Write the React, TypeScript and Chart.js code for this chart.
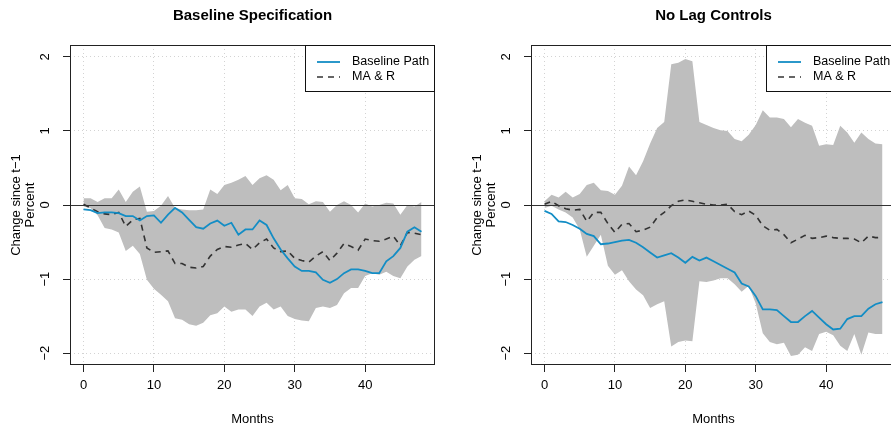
import React, { useEffect, useRef } from "react";
import { Chart, registerables } from "chart.js";

Chart.register(...registerables);

const FONT = "'Liberation Sans', Arial, Helvetica, sans-serif";

const months = [
  0, 1, 2, 3, 4, 5, 6, 7, 8, 9, 10, 11, 12, 13, 14, 15, 16, 17, 18, 19, 20, 21, 22, 23, 24,
  25, 26, 27, 28, 29, 30, 31, 32, 33, 34, 35, 36, 37, 38, 39, 40, 41, 42, 43, 44, 45, 46, 47, 48,
];
const xTickValues = [0, 10, 20, 30, 40];
const yTickValues = [-2, -1, 0, 1, 2];

const panelTitles = ["Baseline Specification", "No Lag Controls"];
const seriesNames = ["Baseline Path", "MA & R"];
const xTitle = "Months";
const yTitle = ["Change since t\u22121", "Percent"];

// Panel 1: Baseline Specification
const baseBlue = [
  -0.06, -0.07, -0.11, -0.10, -0.10, -0.11, -0.15, -0.15, -0.21, -0.15, -0.14, -0.24, -0.13, -0.04, -0.10, -0.20,
  -0.30, -0.32, -0.25, -0.21, -0.28, -0.24, -0.40, -0.33, -0.33, -0.21, -0.27, -0.45, -0.60, -0.72, -0.83, -0.89,
  -0.89, -0.91, -1.01, -1.05, -1.00, -0.92, -0.87, -0.87, -0.89, -0.92, -0.92, -0.76, -0.69, -0.58, -0.36, -0.30, -0.36,
];
const baseDash = [
  0.01, -0.04, -0.09, -0.12, -0.13, -0.10, -0.29, -0.20, -0.18, -0.58, -0.64, -0.63, -0.62, -0.79, -0.79, -0.84,
  -0.85, -0.83, -0.69, -0.60, -0.56, -0.57, -0.54, -0.52, -0.60, -0.51, -0.46, -0.58, -0.63, -0.62, -0.72, -0.75,
  -0.77, -0.69, -0.63, -0.75, -0.65, -0.52, -0.56, -0.61, -0.46, -0.48, -0.49, -0.46, -0.42, -0.55, -0.37, -0.38, -0.40,
];
const baseUpper = [
  0.09, 0.09, 0.04, 0.09, 0.09, 0.21, 0.04, 0.18, 0.25, -0.09, -0.08, -0.01, 0.12, -0.04, -0.06, -0.07,
  -0.07, -0.06, 0.21, 0.15, 0.27, 0.30, 0.34, 0.39, 0.27, 0.36, 0.40, 0.34, 0.20, 0.27, 0.09, 0.08,
  0.01, 0.05, 0.04, -0.09, 0.0, 0.05, 0.0, -0.10, 0.02, -0.02, 0.0, 0.03, 0.02, -0.13, 0.0, -0.02, 0.04,
];
const baseLower = [
  -0.02, -0.04, -0.14, -0.31, -0.33, -0.37, -0.62, -0.55, -0.66, -1.01, -1.13, -1.21, -1.30, -1.53, -1.55, -1.61,
  -1.63, -1.59, -1.49, -1.46, -1.37, -1.44, -1.41, -1.41, -1.50, -1.37, -1.32, -1.41, -1.37, -1.50, -1.54, -1.56,
  -1.57, -1.39, -1.37, -1.39, -1.35, -1.19, -1.12, -1.12, -0.96, -0.92, -0.94, -0.90, -0.96, -0.99, -0.83, -0.74, -0.69,
];

// Panel 2: No Lag Controls
const nolagBlue = [
  -0.08, -0.12, -0.22, -0.23, -0.27, -0.32, -0.39, -0.42, -0.53, -0.52, -0.50, -0.48, -0.47, -0.51, -0.57, -0.64,
  -0.71, -0.68, -0.65, -0.71, -0.78, -0.70, -0.75, -0.71, -0.76, -0.81, -0.86, -0.91, -1.06, -1.10, -1.23, -1.41,
  -1.41, -1.42, -1.50, -1.58, -1.58, -1.50, -1.43, -1.52, -1.61, -1.68, -1.67, -1.54, -1.50, -1.50, -1.40, -1.34, -1.31,
];
const nolagDash = [
  0.01, 0.05, -0.01, -0.05, -0.07, -0.06, -0.22, -0.10, -0.10, -0.25, -0.37, -0.26, -0.25, -0.36, -0.34, -0.30,
  -0.17, -0.10, -0.01, 0.05, 0.07, 0.05, 0.03, 0.01, 0.0, 0.0, 0.01, -0.09, -0.13, -0.08, -0.14, -0.28,
  -0.34, -0.33, -0.40, -0.51, -0.46, -0.41, -0.45, -0.44, -0.42, -0.44, -0.45, -0.45, -0.46, -0.51, -0.42, -0.44, -0.44,
];
const nolagUpper = [
  0.05, 0.14, 0.10, 0.18, 0.10, 0.15, 0.27, 0.30, 0.20, 0.19, 0.14, 0.26, 0.52, 0.40, 0.59, 0.83,
  1.04, 1.12, 1.90, 1.92, 1.97, 1.94, 1.12, 1.08, 1.04, 1.01, 1.00, 0.89, 0.86, 0.95, 1.08, 1.28,
  1.18, 1.18, 1.16, 1.05, 1.16, 1.11, 1.07, 0.80, 0.82, 0.81, 1.07, 0.98, 0.84, 0.98, 0.89, 0.83, 0.82,
];
const nolagLower = [
  -0.04, -0.01, -0.06, -0.10, -0.17, -0.33, -0.70, -0.55, -0.40, -0.82, -0.94, -0.88, -1.03, -1.14, -1.22, -1.39,
  -1.34, -1.30, -1.91, -1.85, -1.83, -1.84, -1.03, -1.04, -1.02, -0.99, -0.99, -1.07, -1.17, -1.09, -1.33, -1.73,
  -1.85, -1.88, -1.86, -2.04, -2.02, -1.92, -1.97, -1.74, -1.71, -1.76, -1.90, -1.97, -1.74, -2.02, -1.72, -1.74, -1.74,
];

const BLUE = "#138dc5";
const DASH = "#333333";
const BAND = "#bebebe";

const fmtY = (v: number) => (v < 0 ? "\u2212" + Math.abs(v) : String(v));

const toXY = (arr: number[]) => months.map((m, i) => ({ x: m, y: arr[i] }));

const rPlotPlugin = {
  id: "rplot",
  afterDatasetsDraw(chart: any) {
    const { ctx, chartArea: a, scales } = chart;
    const y0 = Math.round(scales.y.getPixelForValue(0)) + 0.5;
    ctx.save();
    ctx.strokeStyle = "#333";
    ctx.lineWidth = 1.2;
    ctx.beginPath();
    ctx.moveTo(a.left, y0);
    ctx.lineTo(a.right, y0);
    ctx.stroke();
    ctx.restore();
  },
  afterDraw(chart: any) {
    const { ctx, chartArea: a, scales } = chart;
    const y = scales.y;
    ctx.save();
    // plot box
    ctx.strokeStyle = "#222";
    ctx.lineWidth = 1;
    ctx.setLineDash([]);
    ctx.strokeRect(a.left + 0.5, a.top + 0.5, a.right - a.left - 1, a.bottom - a.top - 1);
    // rotated y tick labels (R style)
    ctx.fillStyle = "#000";
    ctx.font = `13px ${FONT}`;
    ctx.textAlign = "center";
    ctx.textBaseline = "middle";
    y.ticks.forEach((t: any) => {
      const py = y.getPixelForValue(t.value);
      ctx.save();
      ctx.translate(a.left - 25, py);
      ctx.rotate(-Math.PI / 2);
      ctx.fillText(fmtY(t.value), 0, 0);
      ctx.restore();
    });
    // legend
    const lx = a.right - 130;
    const ly = a.top;
    ctx.fillStyle = "#fff";
    ctx.fillRect(lx, ly, a.right - lx, 47);
    ctx.strokeStyle = "#111";
    ctx.lineWidth = 1;
    ctx.strokeRect(lx + 0.5, ly + 0.5, a.right - lx - 1, 46);
    const items = chart.data.datasets.filter((d: any) => d.inLegend);
    items.forEach((d: any, i: number) => {
      const ry = ly + 17 + 15 * i;
      ctx.save();
      ctx.strokeStyle = d.borderColor;
      ctx.lineWidth = d.borderWidth;
      ctx.setLineDash(d.borderDash || []);
      ctx.beginPath();
      ctx.moveTo(lx + 12, ry);
      ctx.lineTo(lx + 35, ry);
      ctx.stroke();
      ctx.restore();
      ctx.fillStyle = "#000";
      ctx.font = `12.5px ${FONT}`;
      ctx.textAlign = "left";
      ctx.textBaseline = "middle";
      ctx.fillText(d.label, lx + 47, ry);
    });
    ctx.restore();
  },
};

function makeConfig(title: string, blue: number[], dash: number[], upper: number[], lower: number[]): any {
  const gridOpts = {
    color: "#d3d3d3",
    lineWidth: 1,
    drawTicks: true,
    tickLength: 7,
    tickColor: "#222",
    tickWidth: 1,
    tickBorderDash: [],
  };
  return {
    type: "line",
    data: {
      datasets: [
        {
          label: seriesNames[0],
          data: toXY(blue),
          borderColor: BLUE,
          borderWidth: 1.8,
          pointRadius: 0,
          fill: false,
          inLegend: true,
        },
        {
          label: seriesNames[1],
          data: toXY(dash),
          borderColor: DASH,
          borderWidth: 1.6,
          borderDash: [6, 5],
          pointRadius: 0,
          fill: false,
          inLegend: true,
        },
        {
          label: "upper",
          data: toXY(upper),
          borderColor: "rgba(0,0,0,0)",
          borderWidth: 1,
          backgroundColor: BAND,
          pointRadius: 0,
          fill: "+1",
        },
        {
          label: "lower",
          data: toXY(lower),
          borderColor: "rgba(0,0,0,0)",
          borderWidth: 1,
          pointRadius: 0,
          fill: false,
        },
      ],
    },
    options: {
      responsive: false,
      animation: false,
      devicePixelRatio: 1,
      layout: { padding: { left: 0, right: 10, top: 0, bottom: 0 } },
      plugins: {
        legend: { display: false },
        tooltip: { enabled: false },
        title: {
          display: true,
          text: title,
          color: "#000",
          fullSize: false,
          font: { family: FONT, size: 15, weight: "bold", lineHeight: 1.2 },
          padding: { top: 7, bottom: 20 },
        },
      },
      scales: {
        x: {
          type: "linear",
          min: -1.92,
          max: 49.92,
          afterBuildTicks: (s: any) => {
            s.ticks = xTickValues.map((v) => ({ value: v }));
          },
          afterFit: (s: any) => {
            s.height = 62;
          },
          grid: gridOpts,
          border: { display: false, dash: [1, 3] },
          ticks: {
            color: "#000",
            font: { family: FONT, size: 13 },
            padding: 6,
            maxRotation: 0,
            autoSkip: false,
          },
          title: {
            display: true,
            text: xTitle,
            color: "#000",
            font: { family: FONT, size: 13, lineHeight: 1.2 },
            padding: { top: 0, bottom: 0 },
          },
        },
        y: {
          type: "linear",
          min: -2.16,
          max: 2.16,
          afterBuildTicks: (s: any) => {
            s.ticks = yTickValues.map((v) => ({ value: v }));
          },
          afterFit: (s: any) => {
            s.width = 70;
          },
          grid: gridOpts,
          border: { display: false, dash: [1, 3] },
          ticks: { display: false },
          title: {
            display: true,
            text: yTitle,
            color: "#000",
            font: { family: FONT, size: 13, lineHeight: 1.05 },
            padding: { top: 10, bottom: 0 },
          },
        },
      },
    },
    plugins: [rPlotPlugin],
  };
}

function Panel({ config, left }: { config: () => any; left: number }) {
  const ref = useRef<HTMLCanvasElement | null>(null);
  useEffect(() => {
    if (!ref.current) return;
    const chart = new Chart(ref.current, config());
    return () => chart.destroy();
  }, []);
  return (
    <canvas
      ref={ref}
      width={445}
      height={427}
      style={{ position: "absolute", left, top: 0, width: 445, height: 427 }}
    />
  );
}

export default function App() {
  return (
    <div
      style={{
        position: "absolute",
        left: 0,
        top: 0,
        width: 891,
        height: 427,
        overflow: "hidden",
        background: "#fff",
      }}
    >
      <Panel left={0} config={() => makeConfig(panelTitles[0], baseBlue, baseDash, baseUpper, baseLower)} />
      <Panel left={461} config={() => makeConfig(panelTitles[1], nolagBlue, nolagDash, nolagUpper, nolagLower)} />
    </div>
  );
}
